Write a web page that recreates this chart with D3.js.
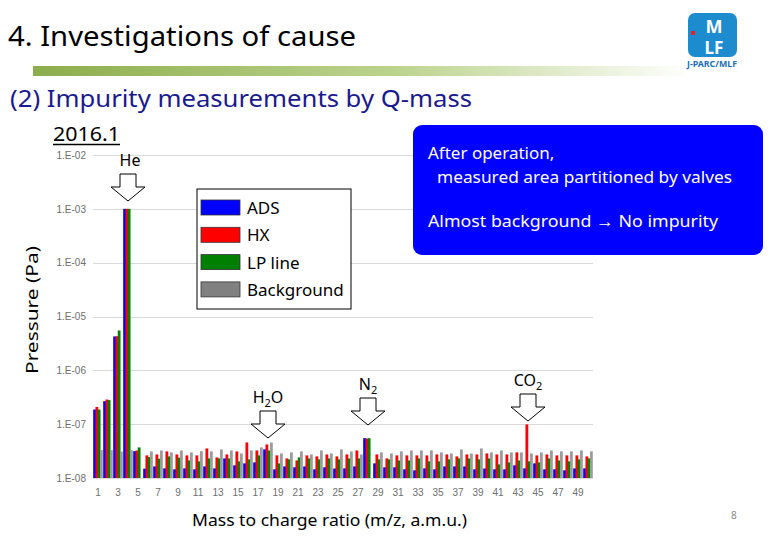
<!DOCTYPE html>
<html>
<head>
<meta charset="utf-8">
<script src="https://cdn.jsdelivr.net/npm/d3@7"></script>
<style>
body { margin: 0; background: #fff; }
text { font-family: "Noto Sans", "Liberation Sans", sans-serif; }
</style>
</head>
<body>
<svg id="slide" width="780" height="540"></svg>
<script>
// mass numbers and series
var masses = d3.range(1, 51);
var seriesNames = ["ADS", "HX", "LP line", "Background"];
var seriesColors = ["#0000ff", "#ff0000", "#008000", "#9c9c9c"];
var tickLabels = ["1.E-08", "1.E-07", "1.E-06", "1.E-05", "1.E-04", "1.E-03", "1.E-02"];
var tickValues = [1e-8, 1e-7, 1e-6, 1e-5, 1e-4, 1e-3, 1e-2];

// pressures (Pa), one per mass 1..50
var ads = [1.87e-7, 2.67e-7, 4.26e-6, 1e-3, 3.15e-8, 1.49e-8, 1.64e-8, 1.51e-8, 1.45e-8, 1.51e-8,
    1.45e-8, 1.64e-8, 1.51e-8, 2.31e-8, 1.72e-8, 1.87e-8, 1.95e-8, 3.40e-8, 1.45e-8, 1.64e-8,
    1.58e-8, 1.64e-8, 1.45e-8, 1.58e-8, 1.50e-8, 1.51e-8, 1.64e-8, 5.5e-8, 1.87e-8, 1.58e-8,
    1.58e-8, 1.45e-8, 1.39e-8, 1.51e-8, 1.45e-8, 1.64e-8, 1.64e-8, 1.64e-8, 1.45e-8, 1.50e-8,
    1.45e-8, 1.45e-8, 1.72e-8, 1.51e-8, 1.87e-8, 1.45e-8, 1.45e-8, 1.39e-8, 1.51e-8, 1.51e-8];
var hx = [2.09e-7, 2.87e-7, 4.3e-6, 1e-3, 3.25e-8, 2.63e-8, 2.74e-8, 3.12e-8, 2.74e-8, 2.63e-8,
    2.63e-8, 3.54e-8, 2.41e-8, 2.74e-8, 3.12e-8, 4.57e-8, 3.25e-8, 4.20e-8, 2.63e-8, 2.31e-8,
    2.12e-8, 2.63e-8, 2.52e-8, 2.74e-8, 2.52e-8, 2.74e-8, 3.25e-8, 5.4e-8, 2.74e-8, 2.31e-8,
    2.63e-8, 2.63e-8, 2.63e-8, 2.63e-8, 2.74e-8, 2.74e-8, 2.52e-8, 2.74e-8, 2.74e-8, 2.86e-8,
    2.74e-8, 2.74e-8, 2.99e-8, 9.9e-8, 2.63e-8, 2.74e-8, 2.63e-8, 2.63e-8, 2.63e-8, 2.52e-8];
var lpLine = [1.87e-7, 2.8e-7, 5.5e-6, 1e-3, 3.7e-8, 2.45e-8, 2.28e-8, 2.52e-8, 2.38e-8, 2.12e-8,
    2.04e-8, 2.31e-8, 2.31e-8, 2.31e-8, 2.04e-8, 2.22e-8, 2.63e-8, 3.25e-8, 1.87e-8, 2.22e-8,
    2.41e-8, 2.31e-8, 2.22e-8, 2.31e-8, 2.22e-8, 2.31e-8, 2.31e-8, 5.5e-8, 2.22e-8, 2.22e-8,
    2.12e-8, 2.12e-8, 2.31e-8, 2.04e-8, 2.04e-8, 2.22e-8, 2.31e-8, 2.31e-8, 2.22e-8, 2.31e-8,
    1.79e-8, 1.95e-8, 2.12e-8, 2.04e-8, 1.95e-8, 2.31e-8, 2.12e-8, 2.04e-8, 2.22e-8, 2.31e-8];
var background = [3.3e-8, 3.3e-8, 3.1e-8, 3.3e-8, null, 3.12e-8, 3.25e-8, 2.99e-8, 3.25e-8, 2.99e-8,
    3.16e-8, 3.12e-8, 3.40e-8, 3.25e-8, 2.86e-8, 3.25e-8, 3.70e-8, 4.57e-8, 2.86e-8, 2.99e-8,
    3.12e-8, 2.74e-8, 3.25e-8, 2.86e-8, 3.40e-8, 3.12e-8, 2.74e-8, null, 2.99e-8, 2.86e-8,
    3.12e-8, 3.25e-8, 3.25e-8, 3.25e-8, 2.99e-8, 2.86e-8, 3.40e-8, 2.86e-8, 3.54e-8, 2.99e-8,
    3.25e-8, 2.99e-8, 2.99e-8, 2.86e-8, 2.99e-8, 3.25e-8, 3.12e-8, 3.12e-8, 3.25e-8, 3.12e-8];

// peaks marked with arrows
var peaks = [
    { mass: 4, label: "He", sub: "", tail: "" },
    { mass: 18, label: "H", sub: "2", tail: "O" },
    { mass: 28, label: "N", sub: "2", tail: "" },
    { mass: 44, label: "CO", sub: "2", tail: "" }
];
var arrowTop = { 4: 174, 18: 411, 28: 398, 44: 394 };

var svg = d3.select("#slide");

// slide header
svg.append("text")
    .attr("x", 8).attr("y", 46)
    .attr("font-size", 28)
    .attr("textLength", 348).attr("lengthAdjust", "spacingAndGlyphs")
    .text("4. Investigations of cause");

var grad = svg.append("defs").append("linearGradient").attr("id", "bar");
grad.append("stop").attr("offset", "0%").attr("stop-color", "#8cad4c");
grad.append("stop").attr("offset", "55%").attr("stop-color", "#bcd38e");
grad.append("stop").attr("offset", "100%").attr("stop-color", "#ffffff");
svg.append("rect")
    .attr("x", 33).attr("y", 66).attr("width", 660).attr("height", 10)
    .attr("fill", "url(#bar)");

// logo
var logo = svg.append("g");
logo.append("rect")
    .attr("x", 688).attr("y", 13).attr("width", 49).attr("height", 44).attr("rx", 7)
    .attr("fill", "#1c8ccf");
logo.append("text")
    .attr("x", 714).attr("y", 33).attr("text-anchor", "middle")
    .attr("font-size", 18).attr("font-weight", "bold").attr("fill", "#fff")
    .text("M");
logo.append("text")
    .attr("x", 714).attr("y", 54).attr("text-anchor", "middle")
    .attr("font-size", 17).attr("font-weight", "bold").attr("fill", "#fff")
    .text("LF");
logo.append("rect")
    .attr("x", 691).attr("y", 31).attr("width", 4).attr("height", 4)
    .attr("fill", "#e8202a");
logo.append("text")
    .attr("x", 712).attr("y", 67).attr("text-anchor", "middle")
    .attr("font-size", 8).attr("font-weight", "bold").attr("fill", "#1c6fb8")
    .attr("textLength", 50).attr("lengthAdjust", "spacingAndGlyphs")
    .text("J-PARC/MLF");

svg.append("text")
    .attr("x", 10).attr("y", 107)
    .attr("font-size", 24).attr("fill", "#1a1a8e")
    .attr("textLength", 462).attr("lengthAdjust", "spacingAndGlyphs")
    .text("(2) Impurity measurements by Q-mass");

svg.append("text")
    .attr("x", 53).attr("y", 141)
    .attr("font-size", 20)
    .attr("textLength", 67).attr("lengthAdjust", "spacingAndGlyphs")
    .text("2016.1");
svg.append("line")
    .attr("x1", 53).attr("x2", 120).attr("y1", 144.5).attr("y2", 144.5)
    .attr("stroke", "#000").attr("stroke-width", 1.5);

// chart
var x = d3.scaleBand().domain(masses).range([93, 593]);
var y = d3.scaleLog().domain([1e-8, 1e-2]).range([478, 155]);
var offset = d3.scalePoint().domain(seriesNames).range([-3.4, 3.4]);
var barWidth = 2.8;

svg.append("g")
    .selectAll("line")
    .data(tickValues)
    .join("line")
    .attr("x1", 93).attr("x2", 593)
    .attr("y1", d => Math.round(y(d)) + 0.5).attr("y2", d => Math.round(y(d)) + 0.5)
    .attr("stroke", "#d9d9d9");

var yAxis = svg.append("g")
    .attr("transform", "translate(86,0)")
    .call(d3.axisLeft(y).tickValues(tickValues).tickSize(0).tickPadding(0)
        .tickFormat((d, i) => tickLabels[i]));
yAxis.select(".domain").remove();
yAxis.selectAll("text")
    .attr("fill", "#6e6e6e").attr("font-size", 10)
    .style("font-family", "'Liberation Sans', sans-serif");

var xAxis = svg.append("g")
    .attr("transform", "translate(0,486)")
    .call(d3.axisBottom(x).tickValues(masses.filter(d => d % 2 == 1)).tickSize(0).tickPadding(3));
xAxis.select(".domain").remove();
xAxis.selectAll("text")
    .attr("fill", "#6e6e6e").attr("font-size", 10)
    .style("font-family", "'Liberation Sans', sans-serif");

var table = [ads, hx, lpLine, background];
var bars = [];
seriesNames.forEach((name, s) => {
    table[s].forEach((v, i) => {
        if (v != null) bars.push({ series: name, color: seriesColors[s], mass: masses[i], value: v });
    });
});

svg.append("g")
    .selectAll("rect")
    .data(bars)
    .join("rect")
    .attr("x", d => x(d.mass) + x.bandwidth() / 2 + offset(d.series) - barWidth / 2)
    .attr("width", barWidth)
    .attr("y", d => y(d.value))
    .attr("height", d => y(1e-8) - y(d.value))
    .attr("fill", d => d.color);

// axis titles
svg.append("text")
    .attr("transform", "translate(38,310) rotate(-90)")
    .attr("text-anchor", "middle")
    .attr("font-size", 16)
    .attr("textLength", 128).attr("lengthAdjust", "spacingAndGlyphs")
    .text("Pressure (Pa)");
svg.append("text")
    .attr("x", 192).attr("y", 526)
    .attr("font-size", 17)
    .attr("textLength", 275).attr("lengthAdjust", "spacingAndGlyphs")
    .text("Mass to charge ratio (m/z, a.m.u.)");

// arrows over the peaks
var arrows = svg.append("g")
    .selectAll("g")
    .data(peaks)
    .join("g")
    .attr("transform", d => `translate(${x(d.mass) + x.bandwidth() / 2},${arrowTop[d.mass]})`);
arrows.append("path")
    .attr("d", "M-8,0 L8,0 L8,13 L17,13 L0,27 L-17,13 L-8,13 Z")
    .attr("fill", "#fff").attr("stroke", "#000").attr("stroke-width", 1);
var lbl = arrows.append("text")
    .attr("x", d => d.mass == 4 ? 2 : 0).attr("y", -8)
    .attr("text-anchor", "middle")
    .attr("font-size", 16);
lbl.append("tspan").text(d => d.label);
lbl.append("tspan").attr("font-size", 11).attr("dy", 4).text(d => d.sub);
lbl.append("tspan").attr("dy", -4).text(d => d.tail);

// legend
var legend = svg.append("g").attr("transform", "translate(197,189)");
legend.append("rect")
    .attr("width", 154).attr("height", 120)
    .attr("fill", "#fff").attr("stroke", "#000");
var item = legend.selectAll("g")
    .data(seriesNames)
    .join("g")
    .attr("transform", (d, i) => `translate(4,${11 + i * 27.3})`);
item.append("rect")
    .attr("width", 39).attr("height", 15)
    .attr("fill", (d, i) => i == 3 ? "#808080" : seriesColors[i])
    .attr("stroke", "#333").attr("stroke-width", 0.8);
item.append("text")
    .attr("x", 46).attr("y", 14)
    .attr("font-size", 17)
    .text(d => d);

// note box
svg.append("rect")
    .attr("x", 413).attr("y", 125).attr("width", 350).attr("height", 130).attr("rx", 9)
    .attr("fill", "#0000ff");
var note = svg.append("g").attr("fill", "#fff").attr("font-size", 17);
note.append("text").attr("x", 428).attr("y", 159).text("After operation,");
note.append("text").attr("x", 437).attr("y", 183)
    .attr("textLength", 295).attr("lengthAdjust", "spacingAndGlyphs")
    .text("measured area partitioned by valves");
note.append("text").attr("x", 428).attr("y", 227)
    .attr("textLength", 290).attr("lengthAdjust", "spacingAndGlyphs")
    .text("Almost background  \u2192 No impurity");

svg.append("text")
    .attr("x", 731).attr("y", 519)
    .attr("font-size", 10).attr("fill", "#888")
    .text("8");
</script>
</body>
</html>
